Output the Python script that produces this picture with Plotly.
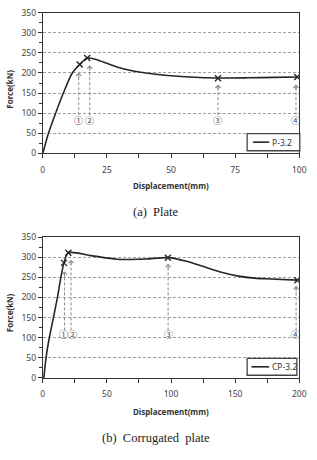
import plotly.graph_objects as go

# ---------------- data ----------------
# (a) Plate, P-3.2
p_name = "P-3.2"
p_disp = [0, 2.2, 5, 8, 11.5, 14.4, 17.3, 21, 25, 28.9, 35.2, 46.6, 57.3, 68.3, 80, 90, 99.2]
p_force = [0, 50, 100, 150, 200, 221, 237, 233, 224, 215, 205, 195, 190, 187.5, 188, 189, 190]
p_mark_disp = [14.4, 17.3, 68.3, 99.2]
p_mark_force = [221, 237, 187, 190]
p_arrow_x = [14.0, 18.3, 68.3, 98.7]
p_arrow_tip = [201, 219, 171, 171]
p_arrow_base = 95
p_label_x = [14.0, 18.3, 68.3, 98.5]
p_label_y = 83

# (b) Corrugated plate, CP-3.2
cp_name = "CP-3.2"
cp_disp = [0.8, 2.5, 5.1, 8.3, 11.4, 14.1, 16.5, 19.9, 37.6, 57.8, 80, 97.5, 112, 127,
           140, 152.5, 165, 177.8, 198.5]
cp_force = [0, 50, 100, 150, 200, 250, 286, 311, 304, 295, 295.5, 299, 290, 275,
            262, 253, 248, 246, 243]
cp_mark_disp = [16.5, 19.9, 97.5, 198.5]
cp_mark_force = [286, 311, 299, 243]
cp_arrow_x = [16.9, 22.0, 97.7, 197.5]
cp_arrow_tip = [265, 294, 284, 229]
cp_arrow_base = 118
cp_label_x = [16.4, 23.0, 97.7, 197.2]
cp_label_y = 108

labels = ["①", "②", "③", "④"]

# ---------------- style ----------------
LINE_C = "#262626"
GRAY = "#8a8a8a"
TICK_FONT = dict(family="Noto Sans", size=8.5, color="#444")
W, H = 317, 460

fig = go.Figure()

def add_panel(xa, ya, disp, force, mdisp, mforce, ax_x, ax_tip, ax_base,
              lab_x, lab_y, name):
    fig.add_trace(go.Scatter(
        x=disp, y=force, mode="lines", name=name, showlegend=False,
        line=dict(color=LINE_C, width=1.6, shape="spline", smoothing=0.8),
        xaxis=xa, yaxis=ya))
    fig.add_trace(go.Scatter(
        x=mdisp, y=mforce, mode="markers", showlegend=False,
        marker=dict(symbol="x-thin", size=6, line=dict(color=LINE_C, width=1.4)),
        xaxis=xa, yaxis=ya))
    xs, ys = [], []
    for x, t in zip(ax_x, ax_tip):
        xs += [x, x, None]
        ys += [ax_base, t - 4, None]
    fig.add_trace(go.Scatter(
        x=xs, y=ys, mode="lines", showlegend=False, hoverinfo="skip",
        line=dict(color=GRAY, width=1, dash="3px,2px"),
        xaxis=xa, yaxis=ya))
    for x, t in zip(ax_x, ax_tip):
        fig.add_annotation(x=x, y=t, xref=xa, yref=ya, text="", showarrow=True,
                           ax=0, ay=7, arrowhead=4, arrowsize=1, arrowwidth=1,
                           arrowcolor=GRAY)
    for x, lab in zip(lab_x, labels):
        fig.add_annotation(x=x, y=lab_y, xref=xa, yref=ya, text=lab, showarrow=False,
                           font=dict(family="Noto Sans CJK KR", size=9, color="#444"))

add_panel("x", "y", p_disp, p_force, p_mark_disp, p_mark_force, p_arrow_x,
          p_arrow_tip, p_arrow_base, p_label_x, p_label_y, p_name)
add_panel("x2", "y2", cp_disp, cp_force, cp_mark_disp, cp_mark_force, cp_arrow_x,
          cp_arrow_tip, cp_arrow_base, cp_label_x, cp_label_y, cp_name)

xdom = [42 / W, 306 / W]
ydom_top = [(H - 151) / H, (H - 6.8) / H]
ydom_bot = [(H - 381) / H, (H - 236.8) / H]

def xaxis(rng, dt, anchor):
    return dict(domain=xdom, range=rng, dtick=dt, tick0=0, anchor=anchor,
                showgrid=False, zeroline=False, showline=True, linecolor="#333",
                linewidth=1, mirror=True, ticks="outside", ticklen=4, tickcolor="#333",
                tickfont=TICK_FONT, ticklabelstandoff=4,
                minor=dict(dtick=dt / 2, ticks="outside", ticklen=4, tickcolor="#333"))

def yaxis(dom, anchor):
    return dict(domain=dom, range=[0, 350], dtick=50, tick0=0, anchor=anchor,
                showgrid=True, gridcolor="#a0a0a0", griddash="3px,2px", gridwidth=1,
                zeroline=False, showline=True, linecolor="#333", linewidth=1,
                mirror=True, ticks="outside", ticklen=4, tickcolor="#333",
                tickfont=TICK_FONT,
                minor=dict(dtick=25, ticks="outside", ticklen=3, tickcolor="#333",
                           showgrid=False))

fig.update_layout(
    width=W, height=H, margin=dict(l=0, r=0, t=0, b=0),
    paper_bgcolor="white", plot_bgcolor="white", showlegend=False,
    xaxis=xaxis([0, 100], 25, "y"),
    yaxis=yaxis(ydom_top, "x"),
    xaxis2=xaxis([0, 200], 50, "y2"),
    yaxis2=yaxis(ydom_bot, "x2"),
)

def px(x):
    return x / W

def py(y):
    return (H - y) / H

# legend boxes (drawn as layout shapes in paper space)
for (bx0, bx1, by0, by1, lx0, lx1, name) in [
        (252.3, 306.5, 130.7, 148.3, 258.3, 275, p_name),
        (252.3, 303.5, 361.0, 378.3, 256.7, 275, cp_name)]:
    fig.add_shape(type="rect", xref="paper", yref="paper",
                  x0=px(bx0), x1=px(bx1), y0=py(by1), y1=py(by0),
                  line=dict(color="#444", width=1.3), fillcolor="white", layer="above")
    cy = (by0 + by1) / 2
    fig.add_shape(type="line", xref="paper", yref="paper",
                  x0=px(lx0), x1=px(lx1), y0=py(cy), y1=py(cy),
                  line=dict(color=LINE_C, width=1.6), layer="above")
    fig.add_annotation(x=px(lx1 + 1), y=py(cy), xref="paper", yref="paper",
                       text=name, showarrow=False, xanchor="left", yanchor="middle",
                       font=dict(family="Noto Sans", size=8.5, color="#333"))

title_font = dict(family="Noto Sans", size=8, color="#333", weight="bold")
cap_font = dict(family="Liberation Serif", size=12.5, color="#222")
texts = [
    ("Displacement(mm)", 174, 184, 0, title_font),
    ("Force(kN)", 8, 85, -90, title_font),
    ("(a)\u00a0\u00a0Plate", 159, 211.5, 0, cap_font),
    ("Displacement(mm)", 174, 415, 0, title_font),
    ("Force(kN)", 8, 314, -90, title_font),
    ("(b)\u00a0\u00a0Corrugated\u00a0\u00a0plate", 159, 442.5, 0, cap_font),
]
for t, x, y, ang, f in texts:
    fig.add_annotation(x=px(x), y=py(y), xref="paper", yref="paper",
                       text=t, showarrow=False, textangle=ang, font=f,
                       xanchor="center", yanchor="middle")

fig.write_html("out.html")
